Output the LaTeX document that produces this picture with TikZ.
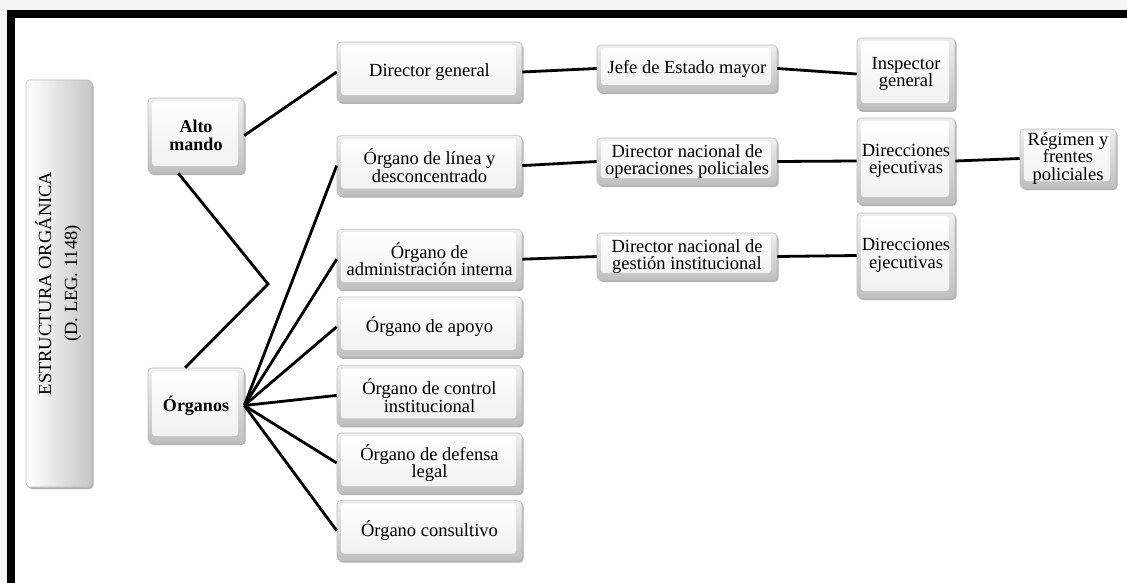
\documentclass[tikz,border=0pt]{standalone}
\usepackage{fontspec}
\setmainfont{Liberation Serif}
\usetikzlibrary{positioning, shadows}

\begin{document}
\begin{tikzpicture}[x=1pt, y=-1pt,
orgbox/.style={rectangle, draw=gray!50, line width=0.6pt, rounded corners=4pt, top color=gray!12, bottom color=gray!50, align=center, inner sep=2pt, font=\fontsize{18.5}{17.5}\selectfont, minimum width=185pt, minimum height=60pt, drop shadow={shadow xshift=1.5pt, shadow yshift=-2pt, fill=black, opacity=0.3}, path picture={\shade[top color=white, bottom color=gray!12, rounded corners=3pt] ([shift={(4pt,-3pt)}]path picture bounding box.north west) rectangle ([shift={(-6pt,7pt)}]path picture bounding box.south east);}},
headbox/.style={orgbox, font=\bfseries\fontsize{18}{18}\selectfont, minimum width=96pt, minimum height=75pt},
rootbox/.style={rectangle, draw=gray!50, line width=0.6pt, rounded corners=4pt, left color=white, right color=gray!45, inner sep=0pt, minimum width=66pt, minimum height=407pt, drop shadow={shadow xshift=1.5pt, shadow yshift=-2pt, fill=black, opacity=0.3}},
link/.style={line width=2.8pt, black}
]
\useasboundingbox (0,0) rectangle (1127,583);
\clip (0,0) rectangle (1127,583);

% page and frame
\fill[gray!8] (0,0) rectangle (1127,583);
\fill[white] (15,18) rectangle (1140,590);
\draw[line width=8pt] (11,14) rectangle (1140,587);

% root
\node[rootbox] (root) at (59,283.5) {\rotatebox{90}{\fontsize{18.5}{26}\selectfont\begin{tabular}{@{}c@{}}ESTRUCTURA ORGÁNICA\\(D. LEG. 1148)\end{tabular}}};
\coordinate (rootjoin) at (268,284);

% first level
\node[headbox] (alto) at (196,135.5) {Alto\\mando};
\node[headbox] (organos) at (196,405.5) {Órganos};

% second level
\node[orgbox] (dirgen) at (429.5,72) {Director general};
\node[orgbox, below=33pt of dirgen] (linea) {Órgano de línea y\\desconcentrado};
\node[orgbox, below=33pt of linea] (admin) {Órgano de\\administración interna};
\node[orgbox, below=7pt of admin] (apoyo) {Órgano de apoyo};
\node[orgbox, below=8pt of apoyo] (control) {Órgano de control\\institucional};
\node[orgbox, below=7pt of control] (defensa) {Órgano de defensa\\legal};
\node[orgbox, below=7pt of defensa] (consult) {Órgano consultivo};

% third level
\node[orgbox, minimum width=180pt, minimum height=47pt] (jefe) at (687,68.5) {Jefe de Estado mayor};
\node[orgbox, minimum width=180pt, minimum height=47pt] (dnops) at (687,161.5) {Director nacional de\\operaciones policiales};
\node[orgbox, minimum width=180pt, minimum height=47pt] (dngest) at (687,256.5) {Director nacional de\\gestión institucional};

% fourth and fifth level
\node[orgbox, minimum width=98pt, minimum height=72pt] (inspector) at (906,74) {Inspector\\general};
\node[orgbox, minimum width=98pt, minimum height=86pt] (direjec) at (906,161) {Direcciones\\ejecutivas};
\node[orgbox, minimum width=98pt, minimum height=85pt] (direjecb) at (906,255.5) {Direcciones\\ejecutivas};
\node[orgbox, minimum width=96pt, minimum height=59pt] (regimen) at (1068,158.5) {Régimen y\\frentes\\policiales};

% connectors
\draw[link] (alto.-115) -- (rootjoin) -- (organos.106);
\draw[link] (alto.east) -- (dirgen.west);
\foreach \o in {linea, admin, apoyo, control, defensa, consult}
  \draw[link] (organos.east) -- (\o.west);
\draw[link] (dirgen.east) -- (jefe.west);
\draw[link] (linea.east) -- (dnops.west);
\draw[link] (admin.east) -- (dngest.west);
\draw[link] (jefe.east) -- (inspector.west);
\draw[link] (dnops.east) -- (direjec.west);
\draw[link] (dngest.east) -- (direjecb.west);
\draw[link] (direjec.east) -- (regimen.west);

\end{tikzpicture}
\end{document}
